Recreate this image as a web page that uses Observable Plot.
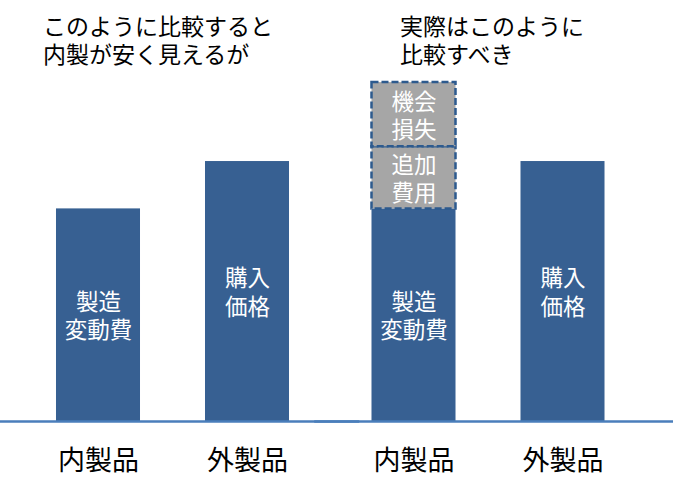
<!DOCTYPE html>
<html><head><meta charset="utf-8">
<script src="https://cdn.jsdelivr.net/npm/d3@7"></script>
<script src="https://cdn.jsdelivr.net/npm/@observablehq/plot@0.6"></script>
<style>
body{margin:0;background:#fff;font-family:"Noto Sans CJK JP",sans-serif}
#wrap{position:relative;width:673px;height:492px}
#wrap svg{position:absolute;left:0;top:0}
.title{position:absolute;top:11px;font-size:23px;line-height:28px;color:#000;white-space:pre;z-index:2}
</style></head><body><div id="wrap"></div>
<script>
const facetKeys = ["比較1", "比較2"];
const titles = ["このように比較すると\n内製が安く見えるが", "実際はこのように\n比較すべき"];
const categories = ["内製品", "外製品"];
const segFacet = ["比較1", "比較1", "比較2", "比較2", "比較2", "比較2"];
const segProduct = ["内製品", "外製品", "内製品", "内製品", "内製品", "外製品"];
const segLabel = ["製造\n変動費", "購入\n価格", "製造\n変動費", "追加\n費用", "機会\n損失", "購入\n価格"];
const segValue = [101, 123.5, 101, 29.5, 30.5, 123.5];
const segKind = ["main", "main", "main", "extra", "extra", "main"];

const rows = [];
const tops = new Map();
segValue.forEach((v, i) => {
  const key = segFacet[i] + "|" + segProduct[i];
  const y1 = tops.get(key) || 0;
  const y2 = y1 + v;
  tops.set(key, y2);
  rows.push({facet: segFacet[i], product: segProduct[i], label: segLabel[i], kind: segKind[i], y1, y2, mid: (y1 + y2) / 2});
});
const mainRows = rows.filter(d => d.kind === "main");
const extraRows = rows.filter(d => d.kind === "extra");

const chart = Plot.plot({
  width: 673, height: 492,
  marginTop: 0, marginBottom: 71, marginLeft: 0, marginRight: 12.5,
  style: {fontFamily: '"Noto Sans CJK JP", sans-serif', fontSize: "27px", color: "#000", background: "transparent"},
  fx: {domain: facetKeys, paddingInner: 0, paddingOuter: 0.04675, round: false, axis: null, label: null},
  x: {domain: categories, paddingInner: 0.4362, paddingOuter: 0.2768, round: false, tickSize: 0, tickPadding: 29, label: null},
  y: {domain: [0, 200], axis: null},
  marks: [
    Plot.barY(mainRows, {fx: "facet", x: "product", y1: "y1", y2: "y2", fill: "#376092"}),
    Plot.barY(extraRows, {fx: "facet", x: "product", y1: "y1", y2: "y2", fill: "#a6a6a6", stroke: "#2d5a8e", strokeWidth: 2.5, strokeDasharray: "7,3"}),
    Plot.ruleY([0], {stroke: "#4a7ebb", strokeWidth: 2.5, insetLeft: -16, insetRight: -29}),
    Plot.text(rows, {fx: "facet", x: "product", y: "mid", text: "label", fill: "white", fontSize: 22.5, lineHeight: 1.25})
  ]
});
const wrap = document.getElementById("wrap");
wrap.appendChild(chart);
const titleLeft = [43, 400];
titles.forEach((t, i) => {
  const div = document.createElement("div");
  div.className = "title";
  div.style.left = titleLeft[i] + "px";
  div.textContent = t;
  wrap.appendChild(div);
});
</script></body></html>
